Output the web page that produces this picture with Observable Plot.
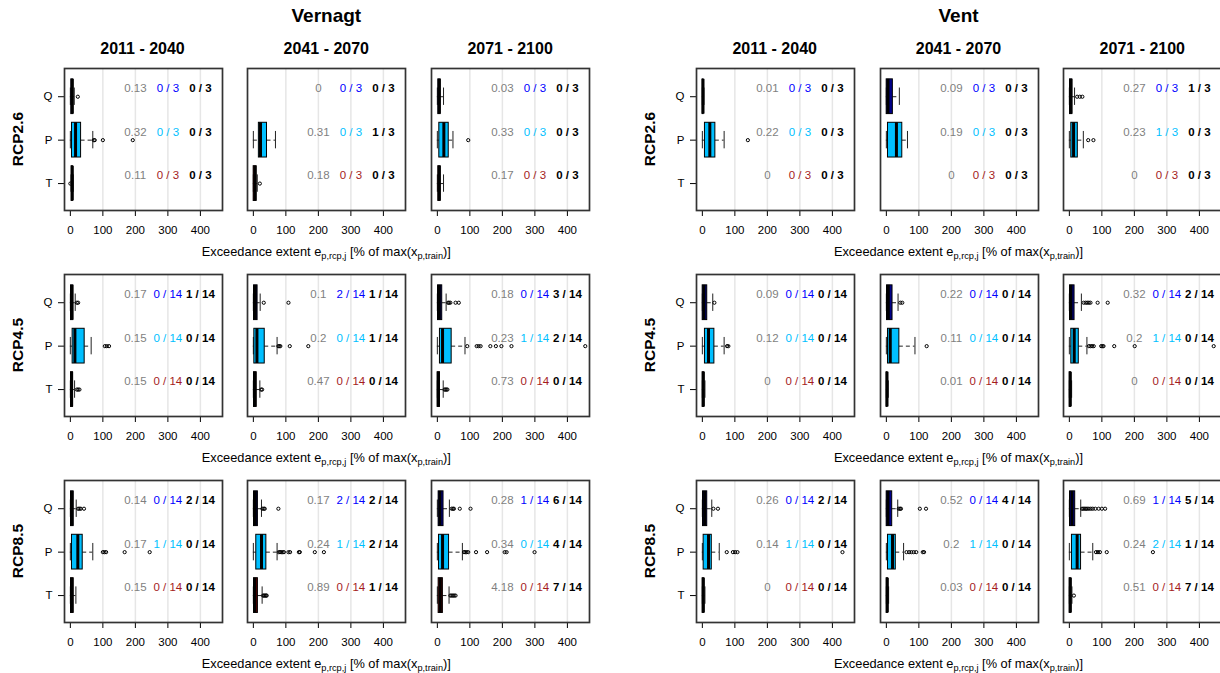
<!DOCTYPE html>
<html>
<head>
<meta charset="utf-8">
<script src="https://cdn.jsdelivr.net/npm/d3@7"></script>
<script src="https://cdn.jsdelivr.net/npm/@observablehq/plot@0.6"></script>
<style>
  body { margin: 0; background: #fff; }
  #fig { position: relative; width: 1220px; height: 673px; overflow: hidden; background: #fff;
         font-family: "Liberation Sans", Arial, Helvetica, sans-serif; color: #000; }
  .lab { position: absolute; white-space: nowrap; transform: translate(-50%, -50%); line-height: 1; }
  .lab sub { font-size: 72%; vertical-align: -0.35em; line-height: 0; }
  .panel { position: absolute; }
</style>
</head>
<body>
<div id="fig"></div>
<script>
// ---- categories ---------------------------------------------------------
const catchments = ["Vernagt", "Vent"];
const scenarios = ["RCP2.6", "RCP4.5", "RCP8.5"];
const periods = ["2011 - 2040", "2041 - 2070", "2071 - 2100"];
const variables = ["Q", "P", "T"];
const modelCounts = [3, 14, 14];          // ensemble members per scenario
const xTicks = [0, 100, 200, 300, 400];
const gridLines = [100, 200, 300, 400];

// ---- box statistics [lower whisker, q1, median, q3, upper whisker] -------
// indexed [scenario][period][variable Q,P,T]; null = no exceedances
const vernagtBox = [
  [[[0,3,6,9,12], [0,5,16,33,69], [2,4,6,8,9]],
   [null, [0,17,22,42,68], [0,1,5,10,12]],
   [[0,3,6,10,19], [0,6,20,35,48], [0,3,6,10,19]]],
  [[[0,2,5,9,15], [0,7,14,44,64], [0,2,4,8,13]],
   [[0,2,6,13,21], [0,3,11,35,73], [0,2,5,10,20]],
   [[0,2,6,15,27], [0,8,16,44,85], [0,1,3,8,18]]],
  [[[0,2,5,10,18], [0,5,23,38,69], [0,2,5,10,17]],
   [[0,2,6,14,25], [0,9,25,40,73], [0,2,5,14,27]],
   [[0,4,8,19,37], [0,5,16,36,77], [0,4,9,17,36]]]
];
const ventBox = [
  [[[0,1,2,4,5], [0,8,23,40,67], null],
   [[0,1,5,20,40], [0,5,31,49,65], null],
   [[0,2,5,9,16], [0,6,13,26,43], null]],
  [[[0,1,5,15,32], [0,8,19,37,67], [0,1,3,6,8]],
   [[0,2,6,19,36], [0,5,12,40,88], [0,1,2,4,6]],
   [[0,2,5,16,37], [0,6,15,29,54], [0,1,3,5,7]]],
  [[[0,2,7,15,29], [0,4,19,29,52], [0,1,3,6,8]],
   [[0,1,5,18,35], [0,5,19,29,53], [0,1,3,5,7]],
   [[0,2,8,18,35], [0,8,24,36,72], [0,1,3,6,8]]]
];

// ---- outliers, same indexing --------------------------------------------
const vernagtOut = [
  [[[23], [72,75,100,192], [0]],
   [[], [], [20]],
   [[], [95], []]],
  [[[20,24], [106,112,119], [20,24,28]],
   [[32,108], [77,80,83,112,169], [24,27]],
   [[33,36,40,56,66], [92,121,127,133,163,180,197,228,455], [22,25,28,31]]],
  [[[24,28,32,42], [100,105,110,167,244], []],
   [[28,32,35,77], [78,82,86,90,94,108,113,140,143,189,217], [30,33,36,39,41]],
   [[44,48,51,69,102], [82,86,90,95,119,153,207,213,299], [40,44,48,52,56]]]
];
const ventOut = [
  [[[], [140], []],
   [[], [], []],
   [[24,32,40], [58,74], []]],
  [[[37], [76,80], []],
   [[43,49], [124], []],
   [[44,50,55,60,65,87,118], [60,65,70,75,98,102,105,138,201,444], []]],
  [[[34,48], [75,94,101,108,431], []],
   [[38,42,45,103,122], [62,70,77,84,92,112,116], []],
   [[39,43,47,51,55,60,66,72,80,90,100,110], [82,88,94,115,257], [14]]]
];

// ---- annotations: mean extent, members below, members beyond -------------
const vernagtShare = [
  [[0.13,0.32,0.11], [0,0.31,0.18], [0.03,0.33,0.17]],
  [[0.17,0.15,0.15], [0.1,0.2,0.47], [0.18,0.23,0.73]],
  [[0.14,0.17,0.15], [0.17,0.24,0.89], [0.28,0.34,4.18]]
];
const vernagtHits = [
  [[0,0,0], [0,0,0], [0,0,0]],
  [[0,0,0], [2,0,0], [0,1,0]],
  [[0,1,0], [2,1,0], [1,0,0]]
];
const vernagtBeyond = [
  [[0,0,0], [0,1,0], [0,0,0]],
  [[1,0,0], [1,1,0], [3,2,0]],
  [[2,0,0], [2,2,1], [6,4,7]]
];
const ventShare = [
  [[0.01,0.22,0], [0.09,0.19,0], [0.27,0.23,0]],
  [[0.09,0.12,0], [0.22,0.11,0.01], [0.32,0.2,0]],
  [[0.26,0.14,0], [0.52,0.2,0.03], [0.69,0.24,0.51]]
];
const ventHits = [
  [[0,0,0], [0,0,0], [0,1,0]],
  [[0,0,0], [0,0,0], [0,1,0]],
  [[0,1,0], [0,1,0], [1,2,0]]
];
const ventBeyond = [
  [[0,0,0], [0,0,0], [1,0,0]],
  [[0,0,0], [0,0,0], [2,0,0]],
  [[2,0,0], [4,0,0], [5,1,7]]
];

// ---- styling -------------------------------------------------------------
const boxFill = ["#00008b", "#00bfff", "#8b0000"];
const countColor = ["#0000ff", "#00bfff", "#a51c1c"];
const FONT = "'Liberation Sans', Arial, Helvetica, sans-serif";

const byCatchment = [
  {box: vernagtBox, out: vernagtOut, share: vernagtShare, hits: vernagtHits, beyond: vernagtBeyond},
  {box: ventBox, out: ventOut, share: ventShare, hits: ventHits, beyond: ventBeyond}
];

// ---- layout (pixels) -----------------------------------------------------
const frameW = 158, frameH = 142;
const colLeft = [[63.5, 247.3, 431.1], [695.7, 879.5, 1063.3]];
const rowTop = [67.5, 274, 480];
const M = {left: 40, right: 4, top: 4, bottom: 34};
const xDomain = [-18, 468];
const yDomain = [0.38, 3.65];

const fig = document.getElementById("fig");

function label(html, x, y, css) {
  const d = document.createElement("div");
  d.className = "lab";
  d.innerHTML = html;
  d.style.left = x + "px";
  d.style.top = y + "px";
  Object.assign(d.style, css || {});
  fig.appendChild(d);
}

function panel(ci, ri, pi) {
  const src = byCatchment[ci];
  const rows = variables.map((v, vi) => ({
    v, vi,
    pos: 3 - vi,
    s: src.box[ri][pi][vi],
    share: String(src.share[ri][pi][vi]),
    hit: `${src.hits[ri][pi][vi]} / ${modelCounts[ri]}`,
    beyond: `${src.beyond[ri][pi][vi]} / ${modelCounts[ri]}`
  }));
  const boxed = rows.filter(r => r.s);
  const dots = rows.flatMap(r => src.out[ri][pi][r.vi].map(x => ({x, pos: r.pos})));

  const svg = Plot.plot({
    width: frameW + M.left + M.right,
    height: frameH + M.top + M.bottom,
    marginLeft: M.left, marginRight: M.right, marginTop: M.top, marginBottom: M.bottom,
    style: {background: "transparent", fontFamily: FONT, fontSize: "11.5px", color: "#000", overflow: "visible"},
    x: {domain: xDomain, ticks: xTicks, tickSize: 6, tickPadding: 9, label: null},
    y: {domain: yDomain, ticks: [1, 2, 3], tickFormat: d => variables[3 - d],
        tickSize: 6, tickPadding: 6, label: null, axis: pi === 0 ? "left" : null},
    marks: [
      Plot.ruleX(gridLines, {stroke: "#e6e6e6", strokeWidth: 1.5}),
      // whiskers
      Plot.ruleY(boxed, {y: d => d.pos, x1: d => d.s[0], x2: d => d.s[1], stroke: "#222", strokeDasharray: "4,3"}),
      Plot.ruleY(boxed, {y: d => d.pos, x1: d => d.s[3], x2: d => d.s[4], stroke: "#222", strokeDasharray: "4,3"}),
      // staples
      Plot.ruleX(boxed, {x: d => d.s[0], y1: d => d.pos - 0.2, y2: d => d.pos + 0.2, stroke: "#222"}),
      Plot.ruleX(boxed, {x: d => d.s[4], y1: d => d.pos - 0.2, y2: d => d.pos + 0.2, stroke: "#222"}),
      // boxes and medians
      Plot.rect(boxed, {x1: d => d.s[1], x2: d => d.s[3], y1: d => d.pos - 0.4, y2: d => d.pos + 0.4,
                        fill: d => boxFill[d.vi], stroke: "#000", strokeWidth: 1}),
      Plot.ruleX(boxed, {x: d => d.s[2], y1: d => d.pos - 0.4, y2: d => d.pos + 0.4, stroke: "#000", strokeWidth: 3}),
      // outliers
      Plot.dot(dots, {x: "x", y: "pos", r: 1.6, stroke: "#000", strokeWidth: 1, fill: "none"}),
      // annotations
      Plot.text(rows, {x: () => 200, y: d => d.pos + 0.19, text: "share", fill: "#7f7f7f", fontSize: 11.5}),
      Plot.text(rows, {x: () => 300, y: d => d.pos + 0.19, text: "hit", fill: d => countColor[d.vi], fontSize: 11.5}),
      Plot.text(rows, {x: () => 400, y: d => d.pos + 0.19, text: "beyond", fill: "#000", fontWeight: "bold", fontSize: 11.5}),
      Plot.frame({stroke: "#333", strokeWidth: 1.7})
    ]
  });
  svg.classList.add("panel");
  svg.style.left = (colLeft[ci][pi] - M.left) + "px";
  svg.style.top = (rowTop[ri] - M.top) + "px";
  fig.appendChild(svg);
}

catchments.forEach((name, ci) => {
  const left = colLeft[ci][0], right = colLeft[ci][2] + frameW;
  label(name, (left + right) / 2, 15, {fontWeight: "bold", fontSize: "19px"});
  periods.forEach((p, pi) => label(p, colLeft[ci][pi] + frameW / 2, 49, {fontWeight: "bold", fontSize: "16px"}));
  scenarios.forEach((s, ri) => {
    label(s, left - 46, rowTop[ri] + frameH / 2, {fontWeight: "bold", fontSize: "15.5px",
          transform: "translate(-50%, -50%) rotate(-90deg)"});
    label("Exceedance extent e<sub>p,rcp,j</sub> [% of max(x<sub>p,train</sub>)]",
          colLeft[ci][1] + frameW / 2, rowTop[ri] + frameH + 42, {fontSize: "12.8px"});
    periods.forEach((p, pi) => panel(ci, ri, pi));
  });
});
</script>
</body>
</html>
